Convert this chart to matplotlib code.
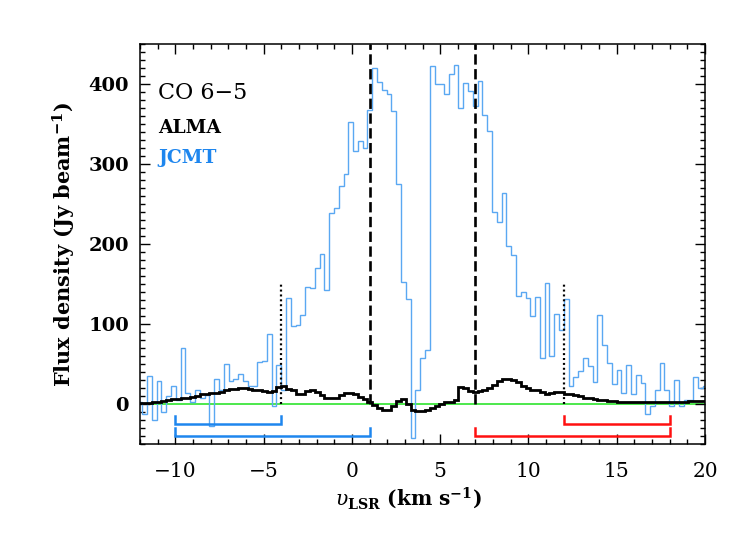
import matplotlib
matplotlib.use("Agg")
import matplotlib.pyplot as plt
import numpy as np

plt.rcParams['font.family'] = ['DejaVu Serif']
plt.rcParams['mathtext.fontset'] = 'dejavuserif'

# channel grid shared by both spectra (km/s)
chan_start = -12.14
chan_width = 0.2713

# JCMT CO 6-5 spectrum (Jy/beam), one value per channel
jcmt_flux = [2, -12, 35, -20, 29, -10, 10, 22, 5, 70,
             14, 3, 17, 8, 11, -27, 31, 18, 50, 29,
             31, 38, 29, 22, 23, 52, 54, 88, -2, 49,
             18, 133, 98, 99, 111, 146, 145, 170, 188, 142,
             239, 245, 272, 287, 353, 316, 329, 320, 368, 420,
             403, 393, 387, 366, 275, 152, 131, -43, 18, 57,
             68, 422, 400, 400, 388, 412, 424, 370, 401, 391,
             372, 404, 361, 341, 240, 228, 264, 198, 186, 135,
             140, 133, 110, 134, 57, 151, 60, 113, 92, 131,
             22, 34, 41, 58, 48, 27, 111, 74, 51, 25,
             42, 14, 49, 12, 36, 26, -13, -2, 18, 51,
             18, -2, 30, -2, 5, 5, 34, 20, 22]

# ALMA CO 6-5 spectrum (Jy/beam)
alma_flux = [1, 1, 1, 2, 2.5, 4, 5, 6, 6.5, 7,
             8, 9, 10.5, 12, 13, 14, 14, 15, 17, 18.5,
             19, 20, 20, 19, 18, 17, 16, 15, 16, 21,
             22, 19, 17, 12, 12, 16, 18, 15, 11, 8,
             7, 7, 11, 14, 14, 12, 9, 6, 3, -1,
             -5, -7, -7, -3, 4, 6, 0, -7, -9, -9,
             -8, -5, -2, 0, 2, 3, 5, 21, 20, 16,
             15, 16, 18, 20, 24, 29, 31, 31, 30, 27,
             22, 20, 18, 17, 15, 13, 14, 15, 15, 13,
             12, 11, 10, 8, 7, 6, 5, 5, 4, 4,
             3, 3, 3, 2, 2, 2, 2, 2, 2, 2,
             2, 2, 2, 3, 3, 4, 4, 4, 4]

# velocity markers and integration ranges
dashed_vel = [1, 7]
dotted_vel = [-4, 12]
dotted_top = 150
blue_ranges = [(-10, -4), (-10, 1)]
red_ranges = [(12, 18), (7, 18)]
bracket_levels = [-25, -40]
cap_height = 10

xticks = [-10, -5, 0, 5, 10, 15, 20]
yticks = [0, 100, 200, 300, 400]

edges = chan_start + chan_width * np.arange(len(jcmt_flux) + 1)

fig = plt.figure(figsize=(7.47, 5.34), dpi=100)
ax = fig.add_axes([0.1874, 0.1685, 0.7564, 0.7491])

ax.axhline(0, color='#3ee63e', lw=1.3, zorder=1)
ax.stairs(jcmt_flux, edges, color='#5aa8f2', lw=1.0, baseline=None, zorder=2)
ax.stairs(alma_flux, edges, color='black', lw=2.0, baseline=None, zorder=3)

for v in dashed_vel:
    ax.plot([v, v], [0, 450], color='black', lw=1.9, dashes=(3.9, 1.7), zorder=4)
for v in dotted_vel:
    ax.plot([v, v], [0, dotted_top], color='black', lw=1.6, ls=(0, (0.9, 1.3)), zorder=4)

# integration range brackets
for (x0, x1), lev in zip(blue_ranges, bracket_levels):
    ax.plot([x0, x0, x1, x1], [lev + cap_height, lev, lev, lev + cap_height],
            color='#1e86ee', lw=1.8, solid_joinstyle='miter')
for (x0, x1), lev in zip(red_ranges, bracket_levels):
    ax.plot([x0, x0, x1, x1], [lev + cap_height, lev, lev, lev + cap_height],
            color='#ff1010', lw=1.8, solid_joinstyle='miter')

ax.set_xlim(-12, 20)
ax.set_ylim(-50, 450)
ax.set_xticks(xticks)
ax.set_yticks(yticks)
ax.set_xticklabels([str(t).replace('-', '\u2212') for t in xticks], fontsize=14.5)
ax.set_yticklabels([str(t) for t in yticks], fontsize=14, fontweight='bold')
ax.xaxis.set_minor_locator(matplotlib.ticker.MultipleLocator(1))
ax.yaxis.set_minor_locator(matplotlib.ticker.MultipleLocator(10))
ax.tick_params(which='both', direction='in', top=True, right=True, width=1.0)
ax.tick_params(which='major', length=7.5)
ax.tick_params(which='minor', length=3.8)
ax.tick_params(axis='x', which='major', pad=13)
ax.tick_params(axis='y', which='major', pad=8)
for s in ax.spines.values():
    s.set_linewidth(1.1)

ax.text(0.032, 0.8625, 'CO 6\u22125', transform=ax.transAxes, fontsize=16)
ax.text(0.032, 0.7775, 'ALMA', transform=ax.transAxes, fontsize=13.5, fontweight='bold')
ax.text(0.032, 0.7025, 'JCMT', transform=ax.transAxes, fontsize=13.5, fontweight='bold',
        color='#1e86ee')

fig.text(0.086, 0.543, r'Flux density (Jy beam$^{\mathbf{-1}}$)', rotation=90,
         ha='center', va='center', fontsize=15, fontweight='bold')
fig.text(0.546, 0.068, r'$\upsilon_{\mathbf{LSR}}$ (km s$^{\mathbf{-1}}$)',
         ha='center', va='center', fontsize=14.5, fontweight='bold')

fig.savefig('out.png', dpi=100)
